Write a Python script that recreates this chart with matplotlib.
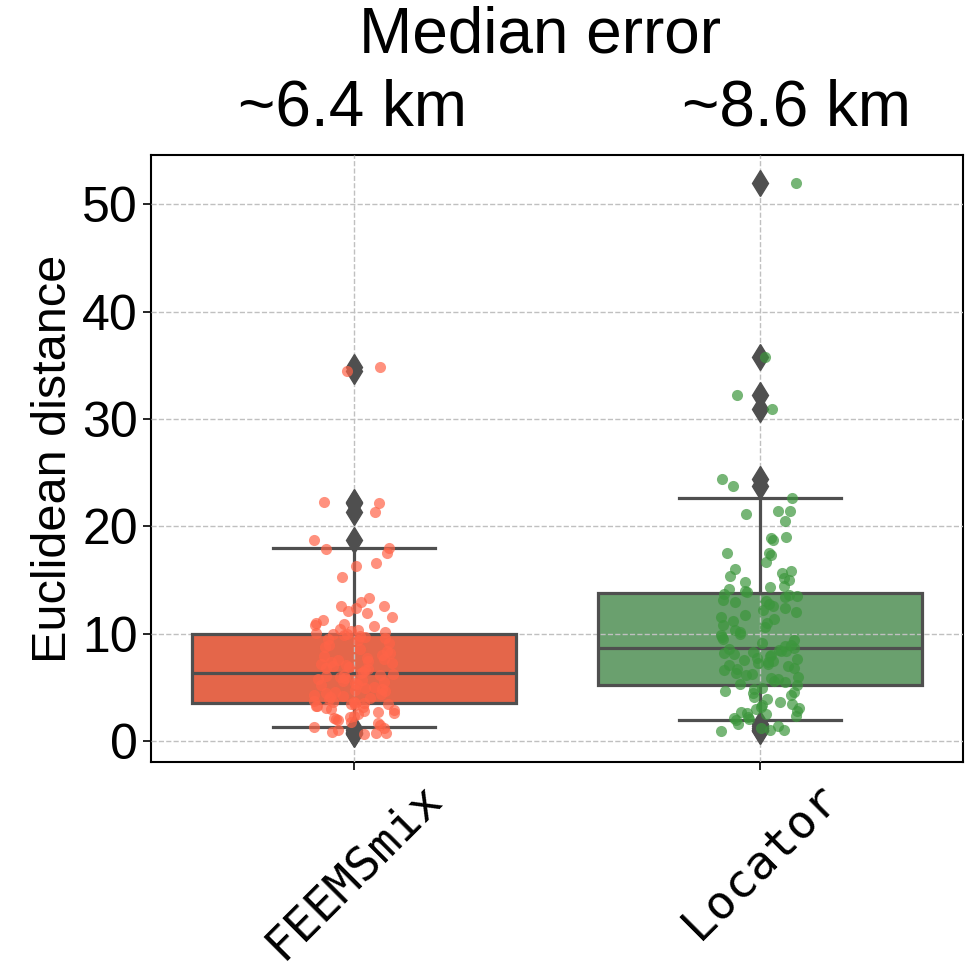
import numpy as np
import matplotlib
matplotlib.use("Agg")
import matplotlib.pyplot as plt

# Localisation error per sample (km), one list per method
categories = ["FEEMSmix", "Locator"]

feemsmix_err = [
    0.65, 0.75, 0.8, 0.9, 1.1, 1.2, 1.35,
    1.5, 1.7, 1.8, 2.0, 2.1, 2.2, 2.3, 2.4, 2.5, 2.6, 2.7, 2.8, 2.9, 3.0,
    3.1, 3.2, 3.25, 3.3, 3.4, 3.45, 3.5, 3.55, 3.6,
    3.62, 3.7, 3.8, 3.9, 4.0, 4.1, 4.2, 4.3, 4.4, 4.5, 4.6, 4.7, 4.8, 4.9,
    5.0, 5.1, 5.2, 5.3, 5.4, 5.5, 5.6, 5.7, 5.8, 5.9, 6.0, 6.1, 6.15, 6.2,
    6.3, 6.35,
    6.45, 6.6, 6.7, 6.8, 6.9, 7.0, 7.1, 7.2, 7.3, 7.4, 7.5, 7.6, 7.7, 7.8,
    7.9, 8.0, 8.2, 8.4, 8.6, 8.8, 9.0, 9.2, 9.4, 9.5, 9.6, 9.7, 9.8, 9.9,
    9.95, 10.0,
    10.1, 10.2, 10.3, 10.4, 10.5, 10.7, 10.8, 10.9, 11.0, 11.3, 11.6, 11.9,
    12.1, 12.4, 12.6, 12.6, 13.0, 13.3, 15.3, 16.3, 16.6, 17.5, 17.9, 18.0,
    18.7, 21.3, 22.2, 22.3, 34.5, 34.8,
]

locator_err = [
    1.0, 1.05, 1.1, 1.2, 1.4, 1.6, 2.0,
    2.1, 2.2, 2.3, 2.4, 2.5, 2.6, 2.7, 2.8, 3.0, 3.1, 3.2, 3.4, 3.5, 3.7,
    3.9, 4.1, 4.3, 4.5, 4.6, 4.7, 4.9, 5.0, 5.2,
    5.3, 5.5, 5.6, 5.8, 5.9, 6.0, 6.2, 6.3, 6.4, 6.6, 6.7, 6.8, 7.0, 7.1,
    7.2, 7.3, 7.4, 7.5, 7.6, 7.7, 7.8, 7.9, 8.0, 8.1, 8.2, 8.3, 8.4, 8.45,
    8.5, 8.6,
    8.7, 8.9, 9.0, 9.2, 9.4, 9.5, 9.7, 9.9, 10.0, 10.2, 10.4, 10.6, 10.8,
    11.0, 11.2, 11.4, 11.6, 11.8, 12.0, 12.2, 12.4, 12.6, 12.8, 13.0, 13.1,
    13.2, 13.4, 13.5, 13.6, 13.75,
    13.9, 14.0, 14.2, 14.4, 14.5, 14.8, 15.0, 15.2, 15.4, 15.7, 15.9, 16.0,
    16.7, 17.3, 17.5, 17.5, 18.7, 18.9, 19.0, 20.5, 21.2, 21.4, 21.4, 22.65,
    23.8, 24.4, 30.9, 32.2, 35.8, 52.0,
]

median_labels = ["~6.4 km", "~8.6 km"]

data = [np.array(feemsmix_err), np.array(locator_err)]
box_colors = ["#E4664A", "#6AA06E"]
point_colors = ["#FF6347", "#3C963C"]
line_gray = "#4f4f4f"

plt.rcParams["font.family"] = ["Liberation Sans", "DejaVu Sans"]

fig = plt.figure(figsize=(9.79, 9.75), dpi=100)
ax = fig.add_axes([0.1542, 0.2185, 0.8295, 0.6225])

positions = np.arange(len(categories))

# box fill underneath the grid
fill = ax.boxplot(data, positions=positions, widths=0.8, whis=(5, 95),
                  patch_artist=True, showfliers=False, showcaps=False,
                  boxprops=dict(edgecolor="none"),
                  whiskerprops=dict(visible=False),
                  medianprops=dict(visible=False), zorder=1)
for patch, c in zip(fill["boxes"], box_colors):
    patch.set_facecolor(c)

# outlines, whiskers, medians and fliers above the grid
ax.boxplot(data, positions=positions, widths=0.8, whis=(5, 95),
           patch_artist=True,
           boxprops=dict(facecolor="none", edgecolor=line_gray, linewidth=2.3),
           whiskerprops=dict(color=line_gray, linewidth=2.3),
           capprops=dict(color=line_gray, linewidth=2.3),
           medianprops=dict(color=line_gray, linewidth=2.3),
           flierprops=dict(marker="d", markersize=13, markerfacecolor=line_gray,
                           markeredgecolor=line_gray),
           zorder=3)

# jittered sample points
rng = np.random.default_rng(7)
for i, (vals, c) in enumerate(zip(data, point_colors)):
    xj = positions[i] + rng.uniform(-0.1, 0.1, len(vals))
    ax.scatter(xj, vals, s=64, color=c, alpha=0.7, linewidths=0, zorder=4)

ax.set_xlim(-0.5, 1.5)
ax.set_xticks(positions)
ax.set_xticklabels(categories, rotation=45, fontsize=34,
                   family="DejaVu Sans Mono")
ax.tick_params(axis="y", labelsize=36)
ax.tick_params(axis="both", length=6, width=1.2, color="black")
ax.set_ylabel("Euclidean distance", fontsize=35)

ax.set_axisbelow(False)
ax.grid(True, linestyle="--", color="#c0c0c0", linewidth=1.0)
for sp in ax.spines.values():
    sp.set_color("black")
    sp.set_linewidth(1.5)

fig.text(0.552, 0.964, "Median error", fontsize=46, ha="center", va="center")
fig.text(0.36, 0.889, median_labels[0], fontsize=46, ha="center", va="center")
fig.text(0.814, 0.889, median_labels[1], fontsize=46, ha="center", va="center")

fig.savefig("out.png", dpi=100)
